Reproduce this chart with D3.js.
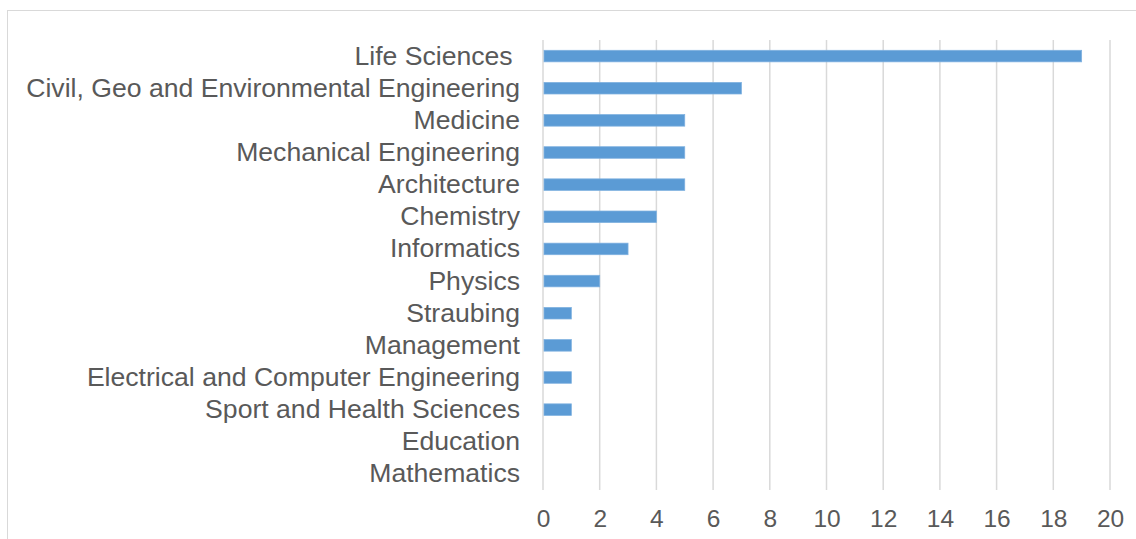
<!DOCTYPE html>
<html>
<head>
<meta charset="utf-8">
<script src="https://cdn.jsdelivr.net/npm/d3@7"></script>
<style>
  body { margin: 0; background: #fff; }
  svg { display: block; }
</style>
</head>
<body>
<div id="chart-container"></div>
<script>
const categories = [
  "Life Sciences ",
  "Civil, Geo and Environmental Engineering",
  "Medicine",
  "Mechanical Engineering",
  "Architecture",
  "Chemistry",
  "Informatics",
  "Physics",
  "Straubing",
  "Management",
  "Electrical and Computer Engineering",
  "Sport and Health Sciences",
  "Education",
  "Mathematics"
];
const counts = [19, 7, 5, 5, 5, 4, 3, 2, 1, 1, 1, 1, 0, 0];
const xTicks = [0, 2, 4, 6, 8, 10, 12, 14, 16, 18, 20];

const W = 1136, H = 539;
const margin = { top: 40, right: 26, bottom: 49, left: 543 };
const width = W - margin.left - margin.right;
const height = H - margin.top - margin.bottom;
const fontFamily = "'Liberation Sans', Arial, sans-serif";

const svgRoot = d3.select("#chart-container")
  .append("svg")
  .attr("width", W)
  .attr("height", H);

// chart area border
svgRoot.append("rect")
  .attr("x", 7.5)
  .attr("y", 10.5)
  .attr("width", 1140)
  .attr("height", 540)
  .attr("fill", "none")
  .attr("stroke", "#d9d9d9")
  .attr("stroke-width", 1);

const svg = svgRoot.append("g")
  .attr("transform", `translate(${margin.left},${margin.top})`);

const x = d3.scaleLinear()
  .domain([0, 20])
  .range([0, width]);

const y = d3.scaleBand()
  .domain(categories)
  .range([0, height])
  .paddingInner(0.64)
  .paddingOuter(0.32);

// gridlines
svg.append("g")
  .selectAll("line")
  .data(xTicks)
  .join("line")
  .attr("x1", d => x(d))
  .attr("x2", d => x(d))
  .attr("y1", 0)
  .attr("y2", height)
  .attr("stroke", "#d9d9d9")
  .attr("stroke-width", 1.5);

// bars
svg.append("g")
  .selectAll("rect")
  .data(counts)
  .join("rect")
  .attr("x", x(0) + 1)
  .attr("y", (d, i) => y(categories[i]))
  .attr("width", d => d > 0 ? x(d) - x(0) - 1 : 0)
  .attr("height", y.bandwidth())
  .attr("fill", "#5b9bd5")
  .attr("stroke", "#7fb1e0")
  .attr("stroke-width", d => d > 0 ? 0.75 : 0);

// x axis
const xAxis = svg.append("g")
  .attr("transform", `translate(0,${height})`)
  .call(d3.axisBottom(x).tickValues(xTicks).tickSize(0).tickPadding(20));
xAxis.select(".domain").remove();
xAxis.selectAll("text")
  .style("font-family", fontFamily)
  .style("font-size", "24.5px")
  .attr("fill", "#595959");

// y axis
const yAxis = svg.append("g")
  .call(d3.axisLeft(y).tickSize(0).tickPadding(23));
yAxis.select(".domain").remove();
yAxis.selectAll("text")
  .style("font-family", fontFamily)
  .style("font-size", "26.6px")
  .style("white-space", "pre")
  .attr("fill", "#595959");
</script>
</body>
</html>
